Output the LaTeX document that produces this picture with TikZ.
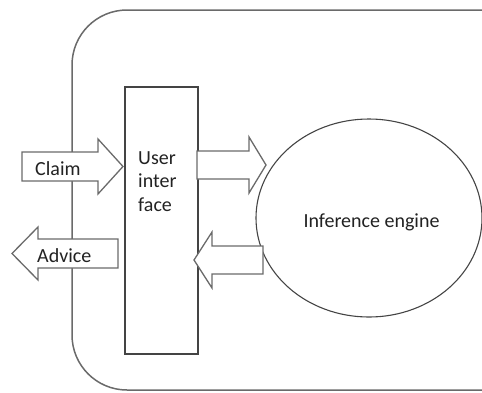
\documentclass[tikz,border=0pt]{standalone}
\usepackage{fontspec}
\setmainfont{Carlito}
\usetikzlibrary{calc}
\usetikzlibrary{shapes.geometric}
\newcommand*{\rad }{55}
\newcommand*{\fnt }{\fontsize{20}{23.5}\selectfont}
\definecolor{edgegray}{HTML}{6A6A6A}
\definecolor{boxgray}{HTML}{444444}
\definecolor{txt}{HTML}{222222}

\begin{document}
\begin{tikzpicture}[x=1pt, y=-1pt, font=\fnt, text=txt,
    blockarrow/.style={draw=edgegray, fill=white, line width=1.3pt, line join=miter},
    lbl/.style={anchor=base west, inner sep=0pt}]
    \useasboundingbox (0,0) rectangle (482,392);
    \clip (0,0) rectangle (482,392);
        \draw [rounded corners=\rad, draw=edgegray, line width=1.5pt] (560,10) -- (72,10) -- (72,390) -- (560,390);
        \node [draw=boxgray, line width=1.3pt, minimum width=73pt, minimum height=267pt, inner sep=0pt] (ui) at (161.5,220.5) {};
        \node [draw=boxgray, line width=1.1pt, ellipse, minimum width=226pt, minimum height=198pt, inner sep=0pt] (engine) at (369,218) {};
        % arrows
        \draw [blockarrow] (22,152) -- (98,152) -- (98,139) -- (123,166.5) -- (98,194) -- (98,181) -- (22,181) -- cycle;
        \draw [blockarrow] (118,239) -- (38,239) -- (38,227) -- (12,253.5) -- (38,280) -- (38,268) -- (118,268) -- cycle;
        \draw [blockarrow] (197,151) -- (249,151) -- (249,137) -- (266,165) -- (249,193) -- (249,179) -- (197,179) -- cycle;
        \draw [blockarrow] (263,246) -- (212,246) -- (212,232) -- (194,260) -- (212,288) -- (212,274) -- (263,274) -- cycle;
        % labels
        \node [lbl] (claim)  at (35,175)  {Claim};
        \node [lbl] (advice) at (37,262)  {Advice};
        \node [lbl, align=left, anchor=north west] (uitext) at (138,151) {User\\inter\\face};
        \node [anchor=base, inner sep=0pt] (engtext) at (371.5,227) {Inference engine};
    \end{tikzpicture}
\end{document}
